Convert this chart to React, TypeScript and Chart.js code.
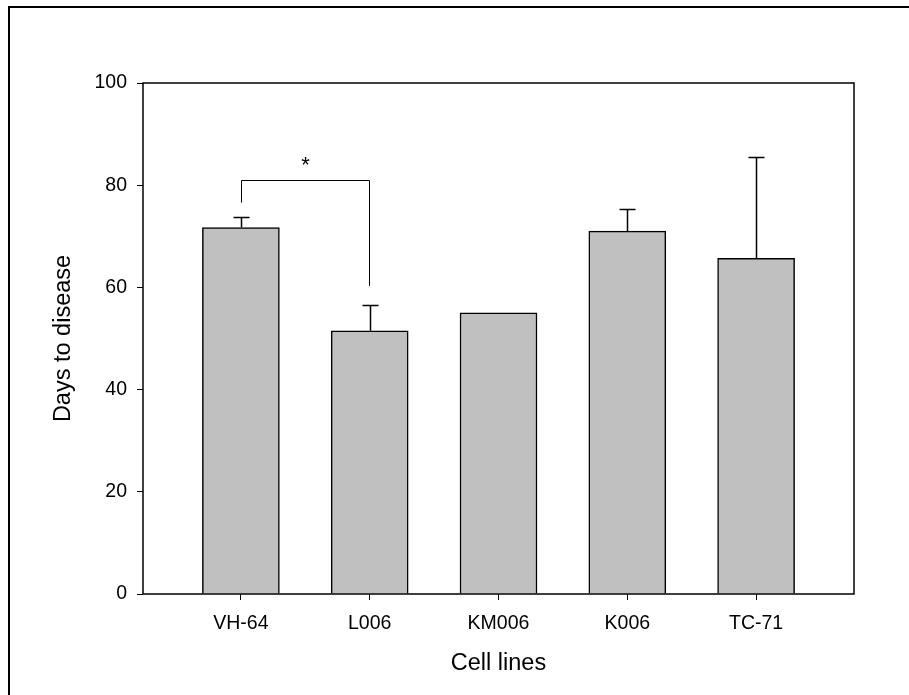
import React, { useEffect, useRef } from "react";
import { Chart, registerables } from "chart.js";

Chart.register(...registerables);

const categories = ["VH-64", "L006", "KM006", "K006", "TC-71"];
const positions = [1, 2, 3, 4, 5];
const meanDays = [71.7, 51.5, 55.0, 71.0, 65.7];
const errorDays = [2.1, 5.0, 0, 4.3, 19.8];
const yTicks = [0, 20, 40, 60, 80, 100];
// significance bracket between VH-64 (1) and L006 (2)
const bracketFrom = 1;
const bracketTo = 2;
const bracketLevel = 81.0;
const bracketLeftEnd = 76.6;
const bracketRightEnd = 60.3;
const bracketLabel = "*";

const FONT = "'Liberation Sans', Arial, sans-serif";

const extrasPlugin = {
  id: "extras",
  beforeDraw(chart: any) {
    const ctx = chart.ctx;
    ctx.save();
    ctx.fillStyle = "#ffffff";
    ctx.fillRect(0, 0, chart.width, chart.height);
    ctx.restore();
  },
  afterDatasetsDraw(chart: any) {
    const ctx = chart.ctx;
    const xs = chart.scales.x;
    const ys = chart.scales.y;
    const area = chart.chartArea;
    ctx.save();
    // error bars
    ctx.strokeStyle = "#000000";
    ctx.lineWidth = 1.5;
    positions.forEach((p, i) => {
      if (!errorDays[i]) return;
      const x = Math.round(xs.getPixelForValue(p)) + 0.5;
      const y0 = ys.getPixelForValue(meanDays[i]);
      const y1 = Math.round(ys.getPixelForValue(meanDays[i] + errorDays[i])) + 0.5;
      ctx.beginPath();
      ctx.moveTo(x, y0);
      ctx.lineTo(x, y1);
      ctx.moveTo(x - 8, y1);
      ctx.lineTo(x + 8, y1);
      ctx.stroke();
    });
    // bracket
    ctx.lineWidth = 1;
    const bx1 = Math.round(xs.getPixelForValue(bracketFrom)) + 0.5;
    const bx2 = Math.round(xs.getPixelForValue(bracketTo)) - 0.5;
    const by = Math.round(ys.getPixelForValue(bracketLevel)) + 0.5;
    ctx.beginPath();
    ctx.moveTo(bx1, ys.getPixelForValue(bracketLeftEnd));
    ctx.lineTo(bx1, by);
    ctx.lineTo(bx2, by);
    ctx.lineTo(bx2, ys.getPixelForValue(bracketRightEnd));
    ctx.stroke();
    ctx.fillStyle = "#000000";
    ctx.font = `22px ${FONT}`;
    ctx.textAlign = "center";
    ctx.textBaseline = "alphabetic";
    ctx.fillText(bracketLabel, (bx1 + bx2) / 2, by - 9);
    // plot frame
    ctx.lineWidth = 1.5;
    ctx.strokeRect(area.left, area.top, area.right - area.left, area.bottom - area.top);
    // outer frame (left and top edges)
    ctx.lineWidth = 2;
    ctx.beginPath();
    ctx.moveTo(9, chart.height);
    ctx.lineTo(9, 7);
    ctx.lineTo(chart.width, 7);
    ctx.stroke();
    ctx.restore();
  },
};

export default function App() {
  const ref = useRef<HTMLCanvasElement | null>(null);
  useEffect(() => {
    if (!ref.current) return;
    const chart = new Chart(ref.current, {
      type: "bar",
      data: {
        datasets: [
          {
            data: positions.map((p, i) => ({ x: p, y: meanDays[i] })),
            backgroundColor: "#c0c0c0",
            borderColor: "#000000",
            borderWidth: 1.5,
            barThickness: 77,
          },
        ],
      },
      options: {
        responsive: false,
        animation: false,
        devicePixelRatio: 1,
        layout: { padding: { left: 0, top: 83, right: 55, bottom: 0 } },
        plugins: { legend: { display: false }, tooltip: { enabled: false } },
        scales: {
          x: {
            type: "linear",
            min: 0.24,
            max: 5.76,
            offset: false,
            afterBuildTicks: (s: any) => {
              s.ticks = positions.map((v) => ({ value: v }));
            },
            afterFit: (s: any) => {
              s.height = 101;
            },
            ticks: {
              color: "#000000",
              font: { family: FONT, size: 19.5 },
              padding: 12,
              maxRotation: 0,
              autoSkip: false,
              callback: (v: any) => {
                const i = positions.indexOf(Number(v));
                return i >= 0 ? categories[i] : "";
              },
            },
            grid: { offset: false, drawOnChartArea: false, tickLength: 6, color: "#000000", lineWidth: 1 },
            border: { display: false },
            title: {
              display: true,
              text: "Cell lines",
              color: "#000000",
              font: { family: FONT, size: 23.5 },
              padding: { top: 0, bottom: 17 },
            },
          },
          y: {
            type: "linear",
            min: 0,
            max: 100,
            afterBuildTicks: (s: any) => {
              s.ticks = yTicks.map((v) => ({ value: v }));
            },
            afterFit: (s: any) => {
              s.width = 143;
            },
            ticks: {
              color: "#000000",
              font: { family: FONT, size: 19.5 },
              padding: 10,
            },
            grid: { drawOnChartArea: false, tickLength: 6, color: "#000000", lineWidth: 1 },
            border: { display: false },
            title: {
              display: true,
              text: "Days to disease",
              color: "#000000",
              font: { family: FONT, size: 23.5 },
              padding: { top: 49, bottom: 0 },
            },
          },
        },
      },
      plugins: [extrasPlugin],
    } as any);
    return () => chart.destroy();
  }, []);
  return (
    <div style={{ position: "fixed", left: 0, top: 0, width: 909, height: 695, background: "#fff" }}>
      <canvas ref={ref} width={909} height={695} style={{ display: "block" }} />
    </div>
  );
}
